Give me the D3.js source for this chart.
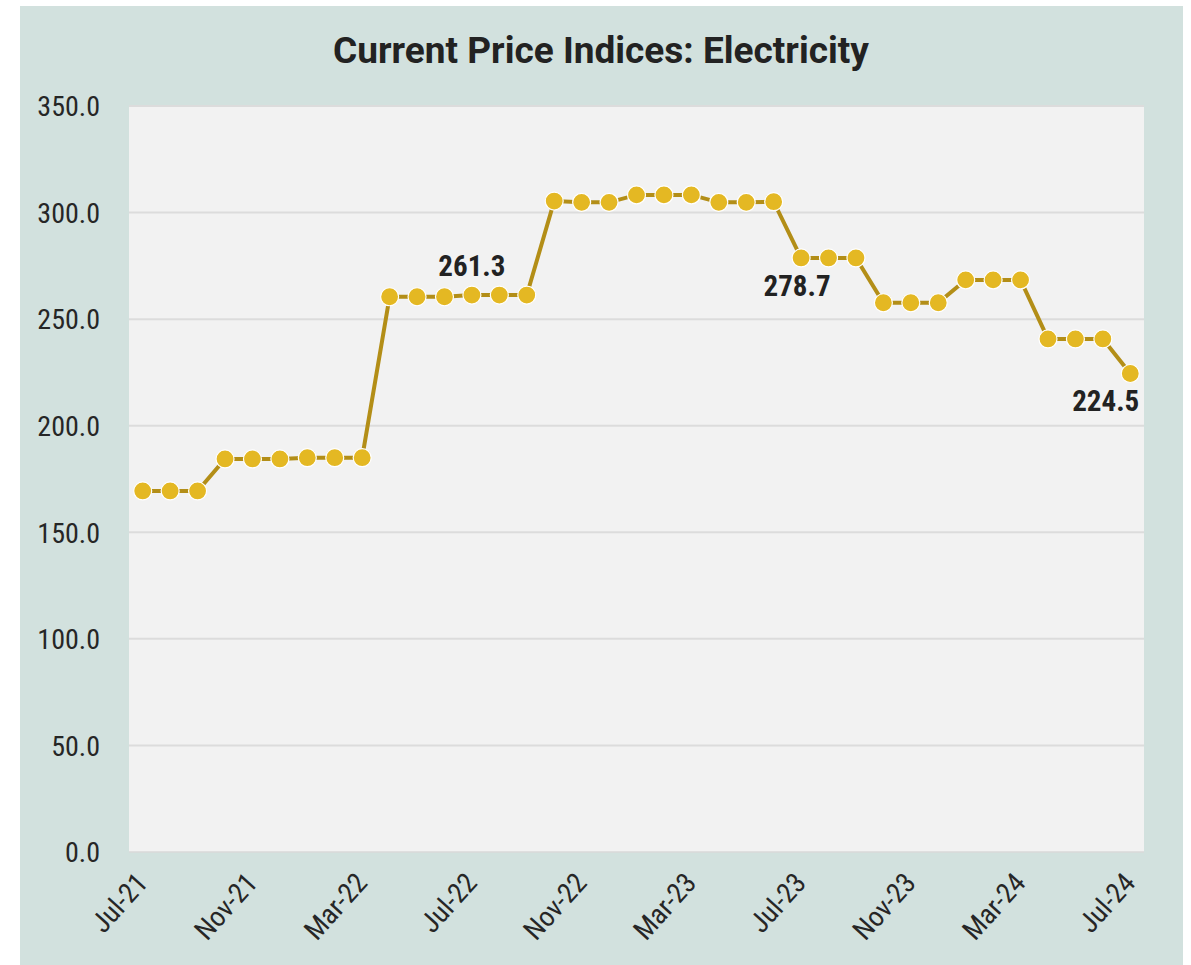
<!DOCTYPE html>
<html lang="en">
<head>
  <meta charset="utf-8">
  <title>Current Price Indices: Electricity</title>
  <script src="https://d3js.org/d3.v7.min.js"></script>
  <style>
    body { margin: 0; background: #ffffff; }
    .cond { font-family: "Roboto Condensed", "Liberation Sans Narrow", "DejaVu Sans Condensed", Roboto, sans-serif; }
  </style>
</head>
<body>
  <div id="chart"></div>
  <script>
    // monthly labels Jul-21 .. Jul-24
    var months = ["Jul-21", "Aug-21", "Sep-21", "Oct-21", "Nov-21", "Dec-21", "Jan-22", "Feb-22", "Mar-22",
      "Apr-22", "May-22", "Jun-22", "Jul-22", "Aug-22", "Sep-22", "Oct-22", "Nov-22", "Dec-22",
      "Jan-23", "Feb-23", "Mar-23", "Apr-23", "May-23", "Jun-23", "Jul-23", "Aug-23", "Sep-23",
      "Oct-23", "Nov-23", "Dec-23", "Jan-24", "Feb-24", "Mar-24", "Apr-24", "May-24", "Jun-24", "Jul-24"];

    var values = [169.4, 169.4, 169.4, 184.4, 184.4, 184.4, 185.0, 185.0, 185.0,
      260.5, 260.5, 260.5, 261.3, 261.3, 261.3, 305.4, 304.8, 304.8,
      308.3, 308.3, 308.3, 304.8, 304.8, 305.1, 278.7, 278.7, 278.7,
      257.7, 257.7, 257.7, 268.4, 268.4, 268.4, 240.7, 240.7, 240.7, 224.5];

    var xTickLabels = ["Jul-21", "Nov-21", "Mar-22", "Jul-22", "Nov-22", "Mar-23", "Jul-23", "Nov-23", "Mar-24", "Jul-24"];
    var yTicks = [0, 50, 100, 150, 200, 250, 300, 350];

    // which points get a value label
    var labelled = [
      { month: "Jul-22", pos: "above" },
      { month: "Jul-23", pos: "below" },
      { month: "Jul-24", pos: "belowleft" }
    ];

    var W = 1191, H = 965;
    var plot = { left: 129, top: 106, right: 1144, bottom: 852 };

    var svg = d3.select("#chart").append("svg")
      .attr("width", W)
      .attr("height", H);

    // outer panel
    svg.append("rect")
      .attr("x", 20).attr("y", 6)
      .attr("width", 1163).attr("height", 959)
      .attr("fill", "#d2e1de");

    // plot area
    svg.append("rect")
      .attr("x", plot.left).attr("y", plot.top)
      .attr("width", plot.right - plot.left).attr("height", plot.bottom - plot.top)
      .attr("fill", "#f2f2f2");

    var data = months.map(function (m, i) { return { month: m, value: values[i] }; });

    var x = d3.scalePoint()
      .domain(months)
      .range([plot.left, plot.right])
      .padding(0.5);

    var y = d3.scaleLinear()
      .domain([0, 350])
      .range([plot.bottom, plot.top]);

    // grid lines
    svg.append("g")
      .selectAll("line")
      .data(yTicks.filter(function (d) { return d > 0; }))
      .enter()
      .append("line")
      .attr("x1", plot.left).attr("x2", plot.right)
      .attr("y1", function (d) { return y(d); })
      .attr("y2", function (d) { return y(d); })
      .attr("stroke", "#dcdcdc")
      .attr("stroke-width", 2);

    // bottom axis line
    svg.append("line")
      .attr("x1", plot.left).attr("x2", plot.right)
      .attr("y1", plot.bottom).attr("y2", plot.bottom)
      .attr("stroke", "#d9d9d9")
      .attr("stroke-width", 1.5);

    // Y axis
    var yAxis = svg.append("g")
      .attr("transform", "translate(" + (plot.left - 26) + ",0)")
      .call(d3.axisLeft(y).tickValues(yTicks).tickSize(0).tickFormat(d3.format(".1f")));
    yAxis.select(".domain").remove();
    yAxis.selectAll("text")
      .attr("class", "cond")
      .attr("fill", "#262626")
      .style("font-size", "28px")
      .attr("dy", "0.35em");

    // X axis
    var xAxis = svg.append("g")
      .attr("transform", "translate(0," + plot.bottom + ")")
      .call(d3.axisBottom(x).tickValues(xTickLabels).tickSize(0));
    xAxis.select(".domain").remove();
    xAxis.selectAll("text")
      .attr("class", "cond")
      .attr("fill", "#262626")
      .style("font-size", "28px")
      .style("text-anchor", "end")
      .attr("x", 0).attr("y", 0)
      .attr("dy", 0)
      .attr("transform", "translate(6,32) rotate(-48)");

    // line
    svg.append("path")
      .datum(data)
      .attr("fill", "none")
      .attr("stroke", "#b38e17")
      .attr("stroke-width", 4)
      .attr("d", d3.line()
        .x(function (d) { return x(d.month); })
        .y(function (d) { return y(d.value); }));

    // dots
    svg.append("g")
      .selectAll("circle")
      .data(data)
      .enter()
      .append("circle")
      .attr("cx", function (d) { return x(d.month); })
      .attr("cy", function (d) { return y(d.value); })
      .attr("r", 9)
      .attr("fill", "#e4b823")
      .attr("stroke", "#ffffff")
      .attr("stroke-width", 1.2);

    // value labels
    svg.append("g")
      .selectAll("text")
      .data(labelled)
      .enter()
      .append("text")
      .attr("class", "cond")
      .attr("font-weight", "bold")
      .attr("font-size", "29px")
      .attr("fill", "#222222")
      .attr("text-anchor", function (d) { return d.pos === "belowleft" ? "end" : "middle"; })
      .attr("x", function (d) {
        var cx = x(d.month);
        if (d.pos === "below") return cx - 4;
        if (d.pos === "belowleft") return cx + 9;
        return cx;
      })
      .attr("y", function (d) {
        var v = values[months.indexOf(d.month)];
        var cy = y(v);
        return d.pos === "above" ? cy - 19 : cy + 38;
      })
      .text(function (d) { return d3.format(".1f")(values[months.indexOf(d.month)]); });

    // title
    svg.append("text")
      .attr("x", 601)
      .attr("y", 63)
      .attr("text-anchor", "middle")
      .attr("font-family", "Roboto, sans-serif")
      .attr("font-weight", "bold")
      .attr("font-size", "37px")
      .attr("fill", "#222222")
      .text("Current Price Indices: Electricity");
  </script>
</body>
</html>
